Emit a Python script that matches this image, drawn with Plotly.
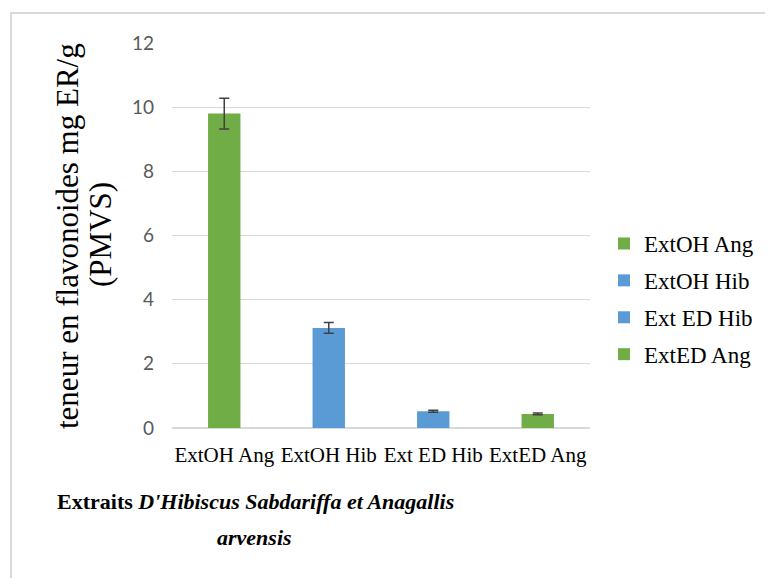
import plotly.graph_objects as go

categories = ["ExtOH Ang", "ExtOH Hib", "Ext ED Hib", "ExtED Ang"]
values = [9.8, 3.12, 0.52, 0.44]
errors = [0.48, 0.17, 0.03, 0.03]
colors = ["#70ad47", "#5b9bd5", "#5b9bd5", "#70ad47"]
y_ticks = [0, 2, 4, 6, 8, 10, 12]

fig = go.Figure()
for i, (cat, v, e, c) in enumerate(zip(categories, values, errors, colors)):
    fig.add_trace(go.Bar(
        x=[cat], y=[v], name=cat, legendgroup=f"g{i}",
        marker=dict(color=c, line=dict(width=0)),
        width=0.31,
        error_y=dict(type="data", array=[e], visible=True, color="#404040",
                     thickness=1.5, width=5),
    ))

serif = "Liberation Serif, Times New Roman, serif"
# page body has an 8px margin; plot area targeted at x 172..590, y 43..428
fig.update_layout(
    width=773, height=578,
    margin=dict(l=164, r=191, t=35, b=158, autoexpand=False),
    paper_bgcolor="white", plot_bgcolor="white",
    barmode="overlay",
    showlegend=True,
    legend=dict(x=1.0335, y=0.335, xanchor="left", yanchor="middle",
                font=dict(family=serif, size=23, color="black"),
                tracegroupgap=4,
                bgcolor="rgba(0,0,0,0)"),
    xaxis=dict(categoryorder="array", categoryarray=categories,
               tickfont=dict(family=serif, size=21, color="black"),
               showgrid=False, showline=True, linecolor="#d9d9d9", linewidth=1,
               ticks="", ticklabelstandoff=8),
    yaxis=dict(range=[0, 12], tickvals=y_ticks, showgrid=True, gridcolor="#d9d9d9",
               gridwidth=1, zeroline=True, zerolinecolor="#d9d9d9",
               tickfont=dict(family="Lato, Open Sans, sans-serif", size=19, color="#595959"),
               ticks="", ticklabelstandoff=17),
    font=dict(family=serif),
)

# y-axis title (two lines placed individually)
fig.add_annotation(
    text="teneur en flavonoides mg ER/g", textangle=-90,
    xref="paper", yref="paper", x=(67 - 172) / 418, y=(428 - 236) / 385,
    xanchor="center", yanchor="middle", showarrow=False,
    font=dict(family=serif, size=31, color="black"),
)
fig.add_annotation(
    text="(PMVS)", textangle=-90,
    xref="paper", yref="paper", x=(100 - 172) / 418, y=(428 - 235) / 385,
    xanchor="center", yanchor="middle", showarrow=False,
    font=dict(family=serif, size=31, color="black"),
)

# x-axis title
fig.add_annotation(
    text="<b>Extraits <i>D'Hibiscus Sabdariffa et Anagallis</i></b>",
    xref="paper", yref="paper", x=(255 - 172) / 418, y=(428 - 501) / 385,
    xanchor="center", yanchor="middle", showarrow=False,
    font=dict(family=serif, size=22, color="black"),
)
fig.add_annotation(
    text="<b><i>arvensis</i></b>",
    xref="paper", yref="paper", x=(254 - 172) / 418, y=(428 - 537) / 385,
    xanchor="center", yanchor="middle", showarrow=False,
    font=dict(family=serif, size=22, color="black"),
)

fig.add_shape(type="rect", xref="paper", yref="paper",
              x0=(11 - 172) / 418, x1=2, y0=-2, y1=(428 - 13) / 385,
              line=dict(color="#d9d9d9", width=2), fillcolor="rgba(0,0,0,0)", layer="below")

fig.write_html("out.html")
